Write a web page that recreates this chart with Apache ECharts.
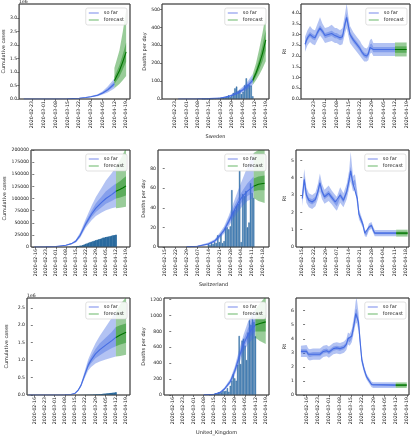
<!DOCTYPE html>
<html><head><meta charset="utf-8">
<script src="https://cdn.jsdelivr.net/npm/echarts@6/dist/echarts.min.js"></script>
<style>html,body{margin:0;padding:0;background:#fff}#c{width:413px;height:440px}</style>
</head><body><div id="c"></div>
<script>
// ===== Day index: 0 = 2020-02-15 =====
// ---------- Sweden ----------
const sweCaseDays = [3, 15, 22, 29, 36, 40, 43, 47, 50, 53, 57];
const sweCaseMed  = [0, 500, 2500, 9000, 30000, 55000, 85000, 140000, 220000, 340000, 560000];
const sweCaseLo95 = [0, 400, 2000, 7000, 24000, 43000, 65000, 105000, 165000, 245000, 390000];
const sweCaseHi95 = [0, 600, 3000, 11500, 38000, 70000, 108000, 180000, 290000, 460000, 760000];
const sweCaseLo50 = [0, 450, 2300, 8200, 27000, 50000, 76000, 124000, 195000, 295000, 480000];
const sweCaseHi50 = [0, 550, 2700, 10000, 33000, 61000, 95000, 158000, 250000, 390000, 650000];
const sweCaseFcDays = [57, 60, 62, 64];
const sweCaseFcMed  = [680000, 1050000, 1380000, 1750000];
const sweCaseFcLo95 = [400000, 560000, 700000, 850000];
const sweCaseFcHi95 = [1150000, 1800000, 2500000, 3300000];
const sweCaseFcLo50 = [560000, 830000, 1100000, 1380000];
const sweCaseFcHi50 = [820000, 1250000, 1650000, 2100000];

const sweDeathBarDays = [25,26,27,28,29,30,31,32,33,34,35,36,37,38,39,40,41,42,43,44,45,46,47,48,49,50,51,52,53,54,55,56];
const sweDeathBarVals = [1,0,1,0,2,1,1,2,3,4,5,5,7,6,9,15,20,12,22,34,59,69,44,50,28,40,76,115,80,78,75,15];
const sweDeathDays = [10, 22, 29, 36, 40, 43, 47, 50, 53, 56];
const sweDeathMed  = [0, 0.5, 2, 6, 12, 20, 35, 52, 75, 105];
const sweDeathLo95 = [0, 0.3, 1.5, 4.5, 9, 15, 26, 38, 55, 78];
const sweDeathHi95 = [0, 0.8, 2.8, 8, 16, 27, 47, 70, 100, 140];
const sweDeathLo50 = [0, 0.4, 1.7, 5.2, 10.5, 17.5, 30, 45, 65, 92];
const sweDeathHi50 = [0, 0.6, 2.4, 7, 14, 23.5, 41, 61, 88, 122];
const sweDeathFcDays = [56, 58, 60, 62, 64];
const sweDeathFcMed  = [105, 145, 195, 255, 330];
const sweDeathFcLo95 = [80, 105, 135, 170, 210];
const sweDeathFcHi95 = [140, 200, 280, 370, 470];
const sweDeathFcLo50 = [92, 125, 165, 210, 270];
const sweDeathFcHi50 = [120, 165, 225, 300, 385];

const sweRDays = [3, 4.5, 6, 7.5, 9, 10.5, 12, 13.5, 15, 17, 19, 21, 22, 24, 25.5, 27, 28, 29, 30, 32, 34, 36, 37, 38.5, 40, 41, 42, 43, 44, 46, 57];
const sweRMed  = [2.55, 2.85, 3.0, 2.9, 2.85, 3.1, 3.3, 3.15, 2.95, 3.0, 3.05, 2.95, 2.95, 2.85, 2.9, 3.5, 3.8, 3.4, 3.0, 2.75, 2.55, 2.35, 2.2, 2.05, 2.0, 2.1, 2.4, 2.45, 2.3, 2.3, 2.3];
const sweRLo95 = [2.2, 2.5, 2.65, 2.55, 2.5, 2.75, 2.95, 2.8, 2.6, 2.65, 2.7, 2.6, 2.6, 2.5, 2.55, 3.05, 3.3, 2.95, 2.6, 2.4, 2.2, 2.0, 1.9, 1.75, 1.75, 1.8, 2.1, 2.15, 2.0, 2.0, 2.0];
const sweRHi95 = [2.9, 3.2, 3.4, 3.25, 3.2, 3.5, 3.8, 3.5, 3.3, 3.35, 3.45, 3.3, 3.3, 3.2, 3.3, 3.95, 4.45, 3.85, 3.4, 3.1, 2.9, 2.7, 2.55, 2.4, 2.35, 2.45, 2.75, 2.8, 2.6, 2.6, 2.6];
const sweRLo50 = [2.43, 2.73, 2.88, 2.78, 2.73, 2.98, 3.17, 3.03, 2.83, 2.88, 2.93, 2.83, 2.83, 2.73, 2.78, 3.35, 3.62, 3.25, 2.87, 2.63, 2.43, 2.23, 2.08, 1.94, 1.89, 1.98, 2.27, 2.32, 2.18, 2.18, 2.18];
const sweRHi50 = [2.67, 2.97, 3.12, 3.02, 2.97, 3.22, 3.43, 3.27, 3.07, 3.12, 3.17, 3.07, 3.07, 2.97, 3.02, 3.65, 3.98, 3.55, 3.13, 2.87, 2.67, 2.47, 2.32, 2.16, 2.11, 2.22, 2.53, 2.58, 2.42, 2.42, 2.42];
const sweRFcDays = [57, 64];
const sweRFcMed  = [2.3, 2.3];
const sweRFcLo95 = [1.98, 1.98];
const sweRFcHi95 = [2.63, 2.63];
const sweRFcLo50 = [2.15, 2.15];
const sweRFcHi50 = [2.45, 2.45];

// ---------- Switzerland ----------
const cheCaseDays = [0, 8, 15, 22, 26, 29, 32, 36, 40, 43, 47, 50, 54, 57];
const cheCaseMed  = [100, 300, 1000, 3500, 7000, 12000, 24000, 48000, 68000, 80000, 92000, 100000, 108000, 115000];
const cheCaseLo95 = [50, 200, 700, 2800, 5500, 9500, 19000, 40000, 55000, 64000, 71000, 76000, 80000, 82000];
const cheCaseHi95 = [150, 400, 1300, 4300, 8500, 15000, 30000, 58000, 85000, 103000, 122000, 137000, 152000, 165000];
const cheCaseLo50 = [80, 250, 850, 3200, 6300, 11000, 21500, 44000, 62000, 72000, 82000, 89000, 95000, 100000];
const cheCaseHi50 = [120, 350, 1150, 3900, 7700, 13500, 27000, 53000, 75000, 90000, 104000, 115000, 124000, 131000];
const cheCaseFcDays = [57, 60, 62, 64];
const cheCaseFcMed  = [115000, 119000, 122000, 126000];
const cheCaseFcLo95 = [80000, 81000, 82000, 83000];
const cheCaseFcHi95 = [165000, 180000, 192000, 205000];
const cheCaseFcLo50 = [100000, 102000, 104000, 106000];
const cheCaseFcHi50 = [130000, 136000, 141000, 146000];
const cheCaseBarDays = [15,16,17,18,19,20,21,22,23,24,25,26,27,28,29,30,31,32,33,34,35,36,37,38,39,40,41,42,43,44,45,46,47,48,49,50,51,52,53,54,55,56,57];
const cheCaseBarVals = [24,30,37,56,90,114,214,268,337,374,491,652,858,1125,1359,2200,2200,2700,3028,4075,5294,6575,7474,8795,9877,10897,11811,12928,14076,14829,15922,16605,17768,18827,19606,20505,21100,21657,22253,23280,24051,24551,25107];

const cheDeathBarDays = [28,29,30,31,32,33,34,35,36,37,38,39,40,41,42,43,44,45,46,47,48,49,50,51,52,53,54,55,56,57];
const cheDeathBarVals = [3,2,4,3,5,4,12,5,13,4,6,20,20,18,21,58,36,38,42,44,78,5,54,52,57,20,25,65,55,50];
const cheDeathDays = [14, 21, 28, 32, 35, 38, 41, 44, 47, 50, 53, 57];
const cheDeathMed  = [0.2, 0.8, 3, 6, 11, 17, 26, 36, 45, 52, 57, 62];
const cheDeathLo95 = [0, 0.4, 2, 4.5, 8.5, 13.5, 21, 29, 36, 42, 47, 50];
const cheDeathHi95 = [0.5, 1.3, 4.5, 8, 14, 21, 32, 45, 58, 70, 82, 96];
const cheDeathLo50 = [0.1, 0.6, 2.5, 5.3, 10, 15.5, 23.5, 32.5, 41, 47, 52, 56];
const cheDeathHi50 = [0.3, 1.0, 3.6, 7, 12.5, 19, 29, 40, 50, 58, 65, 72];
const cheDeathFcDays = [57, 60, 64];
const cheDeathFcMed  = [62, 64, 65];
const cheDeathFcLo95 = [50, 47, 45];
const cheDeathFcHi95 = [96, 99, 99];
const cheDeathFcLo50 = [57, 58, 58];
const cheDeathFcHi50 = [70, 72, 73];

const cheRDays = [0, 1.2, 2.5, 4, 6, 8, 9.5, 10.7, 12, 13.5, 16, 18, 20, 21, 23, 25, 27, 28.5, 29.4, 30.8, 32, 33.4, 34.4, 35.6, 36.8, 38, 39, 40.5, 42, 43, 44, 57];
const cheRMed  = [2.8, 3.9, 3.0, 2.7, 2.6, 2.75, 3.2, 3.7, 3.2, 2.9, 3.1, 2.85, 2.6, 2.5, 3.0, 2.7, 3.2, 3.9, 4.4, 3.65, 3.75, 2.8, 1.9, 1.6, 1.3, 0.8, 0.75, 1.15, 1.25, 1.0, 0.8, 0.8];
const cheRLo95 = [2.35, 3.35, 2.55, 2.3, 2.2, 2.35, 2.75, 3.2, 2.75, 2.5, 2.65, 2.45, 2.2, 2.1, 2.55, 2.3, 2.75, 3.4, 3.8, 3.2, 3.3, 2.4, 1.6, 1.35, 1.1, 0.62, 0.58, 0.95, 1.05, 0.82, 0.62, 0.62];
const cheRHi95 = [3.25, 4.5, 3.45, 3.1, 3.0, 3.15, 3.65, 4.25, 3.65, 3.3, 3.55, 3.25, 3.0, 2.9, 3.45, 3.1, 3.65, 4.45, 5.5, 4.1, 4.2, 3.2, 2.2, 1.85, 1.5, 0.98, 0.92, 1.35, 1.45, 1.18, 0.98, 0.98];
const cheRLo50 = [2.65, 3.7, 2.85, 2.55, 2.45, 2.6, 3.05, 3.5, 3.05, 2.75, 2.95, 2.7, 2.45, 2.35, 2.85, 2.55, 3.05, 3.7, 4.15, 3.5, 3.6, 2.65, 1.8, 1.5, 1.22, 0.73, 0.68, 1.07, 1.17, 0.93, 0.73, 0.73];
const cheRHi50 = [2.95, 4.1, 3.15, 2.85, 2.75, 2.9, 3.35, 3.9, 3.35, 3.05, 3.25, 3.0, 2.75, 2.65, 3.15, 2.85, 3.35, 4.1, 4.65, 3.8, 3.9, 2.95, 2.0, 1.7, 1.38, 0.87, 0.82, 1.23, 1.33, 1.07, 0.87, 0.87];
const cheRFcDays = [57, 64];
const cheRFcMed  = [0.8, 0.8];
const cheRFcLo95 = [0.6, 0.6];
const cheRFcHi95 = [1.0, 1.0];
const cheRFcLo50 = [0.72, 0.72];
const cheRFcHi50 = [0.88, 0.88];

// ---------- United Kingdom ----------
const ukCaseDays = [-3, 15, 22, 26, 29, 31, 33, 36, 38, 40, 43, 46, 50, 54, 57];
const ukCaseMed  = [0, 1000, 5000, 15000, 50000, 130000, 270000, 620000, 850000, 1000000, 1180000, 1300000, 1430000, 1550000, 1650000];
const ukCaseLo95 = [0, 800, 4000, 12000, 40000, 105000, 220000, 520000, 700000, 800000, 900000, 960000, 1020000, 1070000, 1100000];
const ukCaseHi95 = [0, 1200, 6000, 18000, 60000, 155000, 320000, 740000, 1020000, 1220000, 1480000, 1700000, 1950000, 2200000, 2400000];
const ukCaseLo50 = [0, 900, 4600, 13500, 45000, 118000, 245000, 570000, 780000, 910000, 1050000, 1140000, 1250000, 1340000, 1400000];
const ukCaseHi50 = [0, 1100, 5400, 16500, 55000, 142000, 295000, 680000, 930000, 1100000, 1320000, 1480000, 1640000, 1800000, 1950000];
const ukCaseFcDays = [57, 60, 64];
const ukCaseFcMed  = [1650000, 1720000, 1800000];
const ukCaseFcLo95 = [1100000, 1120000, 1150000];
const ukCaseFcHi95 = [2400000, 2600000, 2800000];
const ukCaseFcLo50 = [1400000, 1450000, 1500000];
const ukCaseFcHi50 = [1950000, 2000000, 2050000];
const ukCaseBarDays = [22,23,24,25,26,27,28,29,30,31,32,33,34,35,36,37,38,39,40,41,42,43,44,45,46,47,48,49,50,51,52,53,54,55,56,57];
const ukCaseBarVals = [273,321,373,456,590,798,1061,1140,1391,1543,1950,2626,3269,3983,5018,5683,6650,8077,9529,11658,14543,17089,19522,22141,25150,29474,33718,38168,41903,47806,51608,55242,60733,65077,70272,78991];

const ukDeathBarDays = [26,27,28,29,30,31,32,33,34,35,36,37,38,39,40,41,42,43,44,45,46,47,48,49,50,51,52,53,54,55,56,57];
const ukDeathBarVals = [2,1,10,14,20,16,33,40,33,56,48,54,87,41,115,181,260,209,180,381,743,389,684,708,621,439,786,938,881,980,917,737];
const ukDeathDays = [22, 29, 33, 36, 40, 43, 46, 49, 52, 55, 57];
const ukDeathMed  = [2, 10, 30, 75, 170, 300, 480, 640, 760, 840, 880];
const ukDeathLo95 = [1, 7, 22, 58, 140, 250, 400, 540, 640, 700, 720];
const ukDeathHi95 = [3, 14, 40, 95, 205, 360, 570, 760, 920, 1030, 1080];
const ukDeathLo50 = [1.5, 8.5, 26, 67, 155, 275, 440, 590, 700, 770, 800];
const ukDeathHi50 = [2.5, 12, 35, 85, 188, 330, 525, 700, 840, 930, 960];
const ukDeathFcDays = [57, 60, 64];
const ukDeathFcMed  = [880, 900, 920];
const ukDeathFcLo95 = [720, 680, 640];
const ukDeathFcHi95 = [1080, 1150, 1240];
const ukDeathFcLo50 = [800, 800, 800];
const ukDeathFcHi50 = [960, 990, 1010];

const ukRDays = [-2.6, 1, 2, 3, 5, 7, 9.4, 11.5, 13.6, 15, 17.8, 19.9, 22, 24.5, 26, 27, 28.1, 29.4, 30.8, 31.9, 32.5, 33.6, 34.5, 35.7, 37.2, 38.7, 40.4, 41.9, 43, 57];
const ukRMed  = [3.1, 3.1, 2.9, 2.85, 2.9, 2.9, 2.9, 3.1, 3.15, 3.05, 3.3, 3.35, 3.3, 3.4, 3.6, 4.0, 3.9, 4.2, 5.0, 5.8, 5.8, 5.2, 4.0, 2.5, 1.8, 1.3, 1.0, 0.75, 0.7, 0.7];
const ukRLo95 = [2.7, 2.7, 2.5, 2.45, 2.5, 2.5, 2.5, 2.7, 2.75, 2.65, 2.9, 2.95, 2.9, 3.0, 3.2, 3.6, 3.5, 3.75, 4.5, 5.1, 5.1, 4.6, 3.5, 2.2, 1.55, 1.1, 0.8, 0.55, 0.5, 0.5];
const ukRHi95 = [3.5, 3.55, 3.3, 3.25, 3.3, 3.3, 3.3, 3.5, 3.55, 3.45, 3.7, 3.75, 3.7, 3.8, 4.0, 4.45, 4.35, 4.7, 5.6, 6.7, 6.9, 5.9, 4.55, 2.85, 2.05, 1.5, 1.2, 0.95, 0.9, 0.9];
const ukRLo50 = [2.95, 2.95, 2.75, 2.7, 2.75, 2.75, 2.75, 2.95, 3.0, 2.9, 3.15, 3.2, 3.15, 3.25, 3.45, 3.85, 3.75, 4.0, 4.75, 5.5, 5.5, 4.95, 3.8, 2.38, 1.7, 1.22, 0.92, 0.68, 0.62, 0.62];
const ukRHi50 = [3.25, 3.25, 3.05, 3.0, 3.05, 3.05, 3.05, 3.25, 3.3, 3.2, 3.45, 3.5, 3.45, 3.55, 3.75, 4.15, 4.05, 4.4, 5.25, 6.1, 6.1, 5.45, 4.2, 2.62, 1.9, 1.38, 1.08, 0.82, 0.78, 0.78];
const ukRFcDays = [57, 64];
const ukRFcMed  = [0.7, 0.7];
const ukRFcLo95 = [0.5, 0.5];
const ukRFcHi95 = [0.9, 0.9];
const ukRFcLo50 = [0.62, 0.62];
const ukRFcHi50 = [0.78, 0.78];

// ---------- tick labels ----------
const sundayTicks   = [1, 8, 15, 22, 29, 36, 43, 50, 57, 64];
const sweTicks      = [8, 15, 22, 29, 36, 43, 50, 57, 64];
const saturdayTicks = [0, 7, 14, 21, 28, 35, 42, 49, 56, 63];
const caseTicksM    = [0, 500000, 1000000, 1500000, 2000000, 2500000, 3000000];
const caseTicksCHE  = [0, 25000, 50000, 75000, 100000, 125000, 150000, 175000, 200000];
const deathTicksSWE = [0, 100, 200, 300, 400, 500];
const deathTicksCHE = [0, 20, 40, 60, 80];
const deathTicksUK  = [0, 200, 400, 600, 800, 1000, 1200];
const rTicksSWE     = [0, 0.5, 1, 1.5, 2, 2.5, 3, 3.5, 4];
const rTicksCHE     = [0, 1, 2, 3, 4, 5];
const rTicksUK      = [0, 1, 2, 3, 4, 5, 6];
const countries     = ['Sweden', 'Switzerland', 'United_Kingdom'];

// ===== rendering =====
const D0 = Date.UTC(2020, 1, 15);
const fmtDay = v => new Date(D0 + Math.round(v) * 86400000).toISOString().slice(0, 10);
const FONT = 'DejaVu Sans';
const BLUE_BAND = 'rgba(65,105,225,0.4)';
const GREEN_BAND = 'rgba(0,128,0,0.4)';
const BLUE_LINE = 'rgba(65,105,225,0.95)';
const GREEN_LINE = 'rgb(0,115,0)';

const panels = [
  {box:[19,4,130,99], x:[0.3,66.3], xt:sweTicks, y:[0,3530000], yt:caseTicksM, yf:v=>(v/1e6).toFixed(1), yname:'Cumulative cases', ygap:12, offset:'1e6',
   so:[sweCaseDays,sweCaseMed,sweCaseLo95,sweCaseHi95,sweCaseLo50,sweCaseHi50], fc:[sweCaseFcDays,sweCaseFcMed,sweCaseFcLo95,sweCaseFcHi95,sweCaseFcLo50,sweCaseFcHi50]},
  {box:[162,4,269,99], x:[0,66], xt:sweTicks, y:[0,530], yt:deathTicksSWE, yf:v=>String(v), yname:'Deaths per day', ygap:14, xname:countries[0],
   so:[sweDeathDays,sweDeathMed,sweDeathLo95,sweDeathHi95,sweDeathLo50,sweDeathHi50], fc:[sweDeathFcDays,sweDeathFcMed,sweDeathFcLo95,sweDeathFcHi95,sweDeathFcLo50,sweDeathFcHi50], bars:[sweDeathBarDays,sweDeathBarVals]},
  {box:[301,4,410,99], x:[0.6,66], xt:sweTicks, y:[0,4.42], yt:rTicksSWE, yf:v=>v.toFixed(1), yname:'Rt', ygap:14,
   so:[sweRDays,sweRMed,sweRLo95,sweRHi95,sweRLo50,sweRHi50], fc:[sweRFcDays,sweRFcMed,sweRFcLo95,sweRFcHi95,sweRFcLo50,sweRFcHi50]},

  {box:[31,150,130,247], x:[-2.3,66.8], xt:sundayTicks, y:[0,200000], yt:caseTicksCHE, yf:v=>String(v), yname:'Cumulative cases', ygap:22,
   so:[cheCaseDays,cheCaseMed,cheCaseLo95,cheCaseHi95,cheCaseLo50,cheCaseHi50], fc:[cheCaseFcDays,cheCaseFcMed,cheCaseFcLo95,cheCaseFcHi95,cheCaseFcLo50,cheCaseFcHi50], bars:[cheCaseBarDays,cheCaseBarVals], dark:true},
  {box:[158,150,269,247], x:[-4.3,66.8], xt:saturdayTicks, y:[0,99], yt:deathTicksCHE, yf:v=>String(v), yname:'Deaths per day', ygap:11, xname:countries[1],
   so:[cheDeathDays,cheDeathMed,cheDeathLo95,cheDeathHi95,cheDeathLo50,cheDeathHi50], fc:[cheDeathFcDays,cheDeathFcMed,cheDeathFcLo95,cheDeathFcHi95,cheDeathFcLo50,cheDeathFcHi50], bars:[cheDeathBarDays,cheDeathBarVals]},
  {box:[296,150,409,247], x:[-3.8,64.8], xt:saturdayTicks, y:[0,5.6], yt:rTicksCHE, yf:v=>String(v), yname:'Rt', ygap:9,
   so:[cheRDays,cheRMed,cheRLo95,cheRHi95,cheRLo50,cheRHi50], fc:[cheRFcDays,cheRFcMed,cheRFcLo95,cheRFcHi95,cheRFcLo50,cheRFcHi50]},

  {box:[27,298,130,395], x:[-4,66.7], xt:sundayTicks, y:[0,2780000], yt:caseTicksM.slice(0,6), yf:v=>(v/1e6).toFixed(1), yname:'Cumulative cases', ygap:18, offset:'1e6',
   so:[ukCaseDays,ukCaseMed,ukCaseLo95,ukCaseHi95,ukCaseLo50,ukCaseHi50], fc:[ukCaseFcDays,ukCaseFcMed,ukCaseFcLo95,ukCaseFcHi95,ukCaseFcLo50,ukCaseFcHi50], bars:[ukCaseBarDays,ukCaseBarVals], dark:true},
  {box:[164,298,269,395], x:[-4.9,66.2], xt:sundayTicks, y:[0,1220], yt:deathTicksUK, yf:v=>String(v), yname:'Deaths per day', ygap:16, xname:countries[2],
   so:[ukDeathDays,ukDeathMed,ukDeathLo95,ukDeathHi95,ukDeathLo50,ukDeathHi50], fc:[ukDeathFcDays,ukDeathFcMed,ukDeathFcLo95,ukDeathFcHi95,ukDeathFcLo50,ukDeathFcHi50], bars:[ukDeathBarDays,ukDeathBarVals]},
  {box:[296,298,409,395], x:[-5.7,65.4], xt:sundayTicks, y:[0,6.9], yt:rTicksUK, yf:v=>String(v), yname:'Rt', ygap:9,
   so:[ukRDays,ukRMed,ukRLo95,ukRHi95,ukRLo50,ukRHi50], fc:[ukRFcDays,ukRFcMed,ukRFcLo95,ukRFcHi95,ukRFcLo50,ukRFcHi50]},
];

const zip = (a, b) => a.map((v, i) => [v, b[i]]);
function band(idx, xs, lo, hi, color, z) {
  return {
    type: 'custom', xAxisIndex: idx, yAxisIndex: idx, z: z, silent: true, clip: true,
    data: [[xs[0], lo[0]]],
    renderItem: function (params, api) {
      const pts = [];
      for (let i = 0; i < xs.length; i++) pts.push(api.coord([xs[i], hi[i]]));
      for (let i = xs.length - 1; i >= 0; i--) pts.push(api.coord([xs[i], lo[i]]));
      return { type: 'polygon', shape: { points: pts }, style: { fill: color, stroke: null } };
    }
  };
}
function line(idx, name, xs, ys, color, z) {
  return { type: 'line', name: name, xAxisIndex: idx, yAxisIndex: idx, z: z, data: zip(xs, ys),
    showSymbol: false, symbol: 'none', clip: true, lineStyle: { color: color, width: 1.1 }, itemStyle: { color: color } };
}

const grid = [], xAxis = [], yAxis = [], series = [], legend = [], graphic = [];
panels.forEach((p, i) => {
  const [l, t, r, b] = p.box;
  grid.push({ left: l, top: t, width: r - l, height: b - t, show: true, borderColor: '#444', borderWidth: 0.8, backgroundColor: 'rgba(0,0,0,0)' });
  const pxPerDay = (r - l) / (p.x[1] - p.x[0]);
  xAxis.push({ type: 'value', gridIndex: i, min: p.x[0], max: p.x[1],
    name: p.xname || '', nameLocation: 'middle', nameGap: 35, nameTextStyle: { fontFamily: FONT, fontSize: 5, color: '#222' },
    axisLine: { show: false }, splitLine: { show: false },
    axisTick: { show: true, length: 2, lineStyle: { color: '#222', width: 0.6 }, customValues: p.xt },
    axisLabel: { show: true, rotate: 90, margin: 2, fontFamily: FONT, fontSize: 4.7, color: '#222', customValues: p.xt, formatter: v => fmtDay(v) } });
  yAxis.push({ type: 'value', gridIndex: i, min: p.y[0], max: p.y[1],
    name: p.yname, nameLocation: 'middle', nameGap: p.ygap, nameTextStyle: { fontFamily: FONT, fontSize: 5, color: '#222' },
    axisLine: { show: false }, splitLine: { show: false },
    axisTick: { show: true, length: 2, lineStyle: { color: '#222', width: 0.6 }, customValues: p.yt },
    axisLabel: { show: true, margin: 2, fontFamily: FONT, fontSize: 4.6, color: '#222', customValues: p.yt, formatter: p.yf } });
  if (p.bars) {
    series.push({ type: 'bar', xAxisIndex: i, yAxisIndex: i, z: 1, silent: true, data: zip(p.bars[0], p.bars[1]),
      barWidth: p.dark ? pxPerDay + 0.4 : Math.max(1, pxPerDay * 0.85),
      itemStyle: p.dark ? { color: '#2a6a9e' } : { color: 'rgba(52,124,185,0.9)', borderColor: '#1d5590', borderWidth: 0.4 } });
  }
  const s = p.so, f = p.fc;
  series.push(band(i, s[0], s[2], s[3], BLUE_BAND, 2));
  series.push(band(i, s[0], s[4], s[5], BLUE_BAND, 3));
  series.push(line(i, 'so far', s[0], s[1], BLUE_LINE, 4));
  series.push(band(i, f[0], f[2], f[3], GREEN_BAND, 2));
  series.push(band(i, f[0], f[4], f[5], GREEN_BAND, 3));
  series.push(line(i, 'forecast', f[0], f[1], GREEN_LINE, 4));
  legend.push({ right: 413 - r + 3, top: t + 4, orient: 'vertical', itemGap: 1, itemWidth: 10, itemHeight: 1.3,
    padding: [2, 3, 2, 3], backgroundColor: 'rgba(255,255,255,0.85)', borderColor: '#ccc', borderWidth: 0.6, borderRadius: 2,
    selectedMode: false, textStyle: { fontFamily: FONT, fontSize: 5, color: '#222', padding: [0, 0, 0, 0], lineHeight: 6 },
    data: [ { name: 'so far', icon: 'rect', itemStyle: { color: 'rgb(150,165,240)' } },
            { name: 'forecast', icon: 'rect', itemStyle: { color: 'rgb(140,200,140)' } } ] });
  graphic.push({ type: 'rect', z: 100, silent: true, shape: { x: l, y: t, width: r - l, height: b - t },
    style: { fill: 'rgba(0,0,0,0)', stroke: '#444', lineWidth: 0.8 } });
  if (p.offset) graphic.push({ type: 'text', left: l, top: t - 5, style: { text: p.offset, font: '4.6px "DejaVu Sans"', fill: '#222' } });
});

const chart = echarts.init(document.getElementById('c'), null, { renderer: 'canvas' });
chart.setOption({ animation: false, backgroundColor: '#fff', grid, xAxis, yAxis, series, legend, graphic });
</script></body></html>
